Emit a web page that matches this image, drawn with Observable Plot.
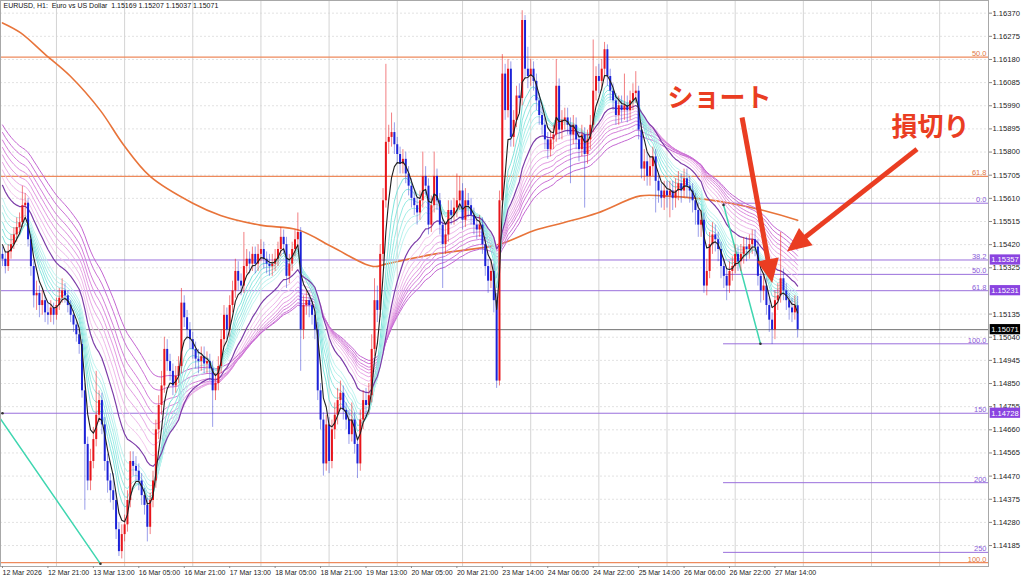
<!DOCTYPE html>
<html><head><meta charset="utf-8">
<script src="https://cdn.jsdelivr.net/npm/d3@7"></script>
<script src="https://cdn.jsdelivr.net/npm/@observablehq/plot@0.6"></script>
<style>body{margin:0;background:#fff}#chart{width:1024px;height:580px}</style>
</head><body><div id="chart"></div>
<script>
// ---- data (EURUSD H1, bar index 0 = 12 Mar 05:00) ----
const firstOpen = 1.1538;
const closes = [
1.1536,1.1533,1.1539,1.1542,1.1546,1.1549,1.1551,1.1558,1.1559,1.1544,
1.1533,1.1521,1.1522,1.1517,1.1519,1.1514,1.1513,1.1516,1.1513,1.1517,
1.1520,1.1523,1.1521,1.1517,1.1513,1.1509,1.1505,1.1501,1.1482,1.1460,
1.1445,1.1453,1.1462,1.1472,1.1478,1.1468,1.1453,1.1445,1.1441,1.1437,
1.1425,1.1416,1.1423,1.1427,1.1437,1.1453,1.1451,1.1449,1.1445,1.1439,
1.1435,1.1426,1.1437,1.1445,1.1466,1.1476,1.1484,1.1499,1.1494,1.1490,
1.1484,1.1488,1.1492,1.1518,1.1512,1.1507,1.1503,1.1499,1.1495,1.1494,
1.1496,1.1493,1.1494,1.1491,1.1482,1.1485,1.1492,1.1503,1.1513,1.1507,
1.1517,1.1523,1.1531,1.1527,1.1525,1.1533,1.1536,1.1534,1.1538,1.1534,
1.1538,1.1540,1.1536,1.1534,1.1533,1.1534,1.1536,1.1540,1.1545,1.1542,
1.1529,1.1534,1.1540,1.1544,1.1547,1.1507,1.1517,1.1519,1.1517,1.1513,
1.1507,1.1482,1.1470,1.1452,1.1468,1.1453,1.1466,1.1472,1.1478,1.1481,
1.1474,1.1470,1.1464,1.1470,1.1460,1.1452,1.1470,1.1478,1.1476,1.1480,
1.1499,1.1519,1.1515,1.1538,1.1560,1.1584,1.1586,1.1588,1.1583,1.1579,
1.1575,1.1577,1.1571,1.1566,1.1561,1.1558,1.1555,1.1560,1.1570,1.1566,
1.1550,1.1558,1.1570,1.1560,1.1550,1.1542,1.1546,1.1556,1.1554,1.1557,
1.1560,1.1564,1.1552,1.1560,1.1558,1.1554,1.1550,1.1548,1.1550,1.1542,
1.1533,1.1527,1.1531,1.1519,1.1486,1.1560,1.1612,1.1597,1.1614,1.1586,
1.1593,1.1603,1.1602,1.1634,1.1614,1.1611,1.1614,1.1609,1.1601,1.1595,
1.1591,1.1585,1.1581,1.1585,1.1587,1.1607,1.1589,1.1593,1.1594,1.1591,
1.1587,1.1591,1.1585,1.1581,1.1587,1.1579,1.1585,1.1591,1.1605,1.1611,
1.1609,1.1614,1.1622,1.1611,1.1605,1.1601,1.1595,1.1599,1.1597,1.1599,
1.1597,1.1601,1.1604,1.1605,1.1589,1.1573,1.1576,1.1570,1.1574,1.1578,
1.1568,1.1564,1.1561,1.1564,1.1562,1.1564,1.1561,1.1564,1.1567,1.1564,
1.1569,1.1566,1.1564,1.1560,1.1556,1.1550,1.1552,1.1525,1.1531,1.1542,
1.1546,1.1544,1.1540,1.1533,1.1529,1.1525,1.1531,1.1533,1.1538,1.1535,
1.1538,1.1541,1.1540,1.1542,1.1544,1.1541,1.1529,1.1523,1.1525,1.1517,
1.1511,1.1507,1.1519,1.1521,1.1528,1.1523,1.1519,1.1516,1.1514,1.15169,
1.15071];
const highs = [
1.1541,1.1539,1.1542,1.1546,1.1549,1.1553,1.1555,1.1566,1.1563,1.1561,
1.1546,1.1535,1.1527,1.1525,1.1523,1.1521,1.1518,1.1519,1.1518,1.1520,
1.1524,1.1528,1.1526,1.1523,1.1519,1.1515,1.1511,1.1507,1.1503,1.1485,
1.1463,1.1458,1.1467,1.1490,1.1482,1.1481,1.1471,1.1456,1.1448,1.1448,
1.1440,1.1428,1.1427,1.1431,1.1441,1.1457,1.1457,1.1455,1.1452,1.1448,
1.1442,1.1438,1.1440,1.1449,1.1470,1.1480,1.1490,1.1504,1.1503,1.1497,
1.1493,1.1492,1.1496,1.1524,1.1521,1.1515,1.1510,1.1506,1.1502,1.1499,
1.1500,1.1500,1.1498,1.1497,1.1494,1.1489,1.1496,1.1507,1.1517,1.1516,
1.1521,1.1527,1.1536,1.1535,1.1530,1.1547,1.1540,1.1539,1.1541,1.1541,
1.1542,1.1544,1.1543,1.1539,1.1538,1.1538,1.1540,1.1543,1.1549,1.1548,
1.1545,1.1538,1.1543,1.1548,1.1555,1.1549,1.1521,1.1523,1.1522,1.1520,
1.1516,1.1510,1.1485,1.1473,1.1472,1.1471,1.1470,1.1477,1.1483,1.1486,
1.1484,1.1477,1.1474,1.1477,1.1473,1.1463,1.1474,1.1482,1.1483,1.1485,
1.1505,1.1528,1.1525,1.1542,1.1565,1.1616,1.1591,1.1596,1.1592,1.1586,
1.1582,1.1581,1.1580,1.1574,1.1569,1.1564,1.1561,1.1564,1.1580,1.1574,
1.1569,1.1562,1.1580,1.1573,1.1563,1.1553,1.1550,1.1560,1.1560,1.1561,
1.1571,1.1570,1.1567,1.1565,1.1563,1.1561,1.1557,1.1553,1.1554,1.1553,
1.1545,1.1536,1.1535,1.1534,1.1522,1.1564,1.1620,1.1616,1.1618,1.1617,
1.1597,1.1607,1.1608,1.1638,1.1636,1.1623,1.1618,1.1617,1.1612,1.1604,
1.1598,1.1594,1.1588,1.1589,1.1591,1.1618,1.1610,1.1597,1.1598,1.1598,
1.1594,1.1595,1.1594,1.1588,1.1591,1.1590,1.1589,1.1595,1.1626,1.1615,
1.1616,1.1618,1.1625,1.1624,1.1614,1.1608,1.1604,1.1603,1.1603,1.1612,
1.1603,1.1605,1.1608,1.1613,1.1607,1.1592,1.1581,1.1580,1.1578,1.1582,
1.1581,1.1571,1.1567,1.1568,1.1568,1.1568,1.1568,1.1569,1.1572,1.1571,
1.1573,1.1573,1.1570,1.1567,1.1563,1.1559,1.1556,1.1555,1.1536,1.1547,
1.1551,1.1550,1.1547,1.1543,1.1536,1.1532,1.1535,1.1537,1.1542,1.1541,
1.1542,1.1545,1.1545,1.1546,1.1548,1.1548,1.1544,1.1532,1.1530,1.1528,
1.1520,1.1514,1.1523,1.1526,1.1547,1.1532,1.1526,1.1522,1.1520,1.1521,
1.15207];
const lows = [
1.1533,1.1530,1.1531,1.1536,1.1540,1.1543,1.1546,1.1549,1.1553,1.1541,
1.1529,1.1516,1.1515,1.1512,1.1513,1.1510,1.1509,1.1510,1.1509,1.1511,
1.1515,1.1518,1.1518,1.1514,1.1510,1.1506,1.1502,1.1497,1.1479,1.1433,
1.1441,1.1441,1.1450,1.1459,1.1469,1.1464,1.1449,1.1440,1.1436,1.1433,
1.1421,1.1414,1.1413,1.1420,1.1424,1.1434,1.1447,1.1445,1.1441,1.1435,
1.1431,1.1420,1.1423,1.1434,1.1442,1.1462,1.1472,1.1481,1.1490,1.1486,
1.1480,1.1481,1.1485,1.1489,1.1508,1.1503,1.1499,1.1495,1.1491,1.1489,
1.1490,1.1489,1.1489,1.1486,1.1467,1.1478,1.1482,1.1489,1.1500,1.1503,
1.1504,1.1514,1.1520,1.1523,1.1521,1.1522,1.1530,1.1530,1.1531,1.1530,
1.1531,1.1535,1.1532,1.1530,1.1529,1.1529,1.1531,1.1533,1.1537,1.1538,
1.1524,1.1526,1.1531,1.1537,1.1541,1.1490,1.1503,1.1513,1.1512,1.1509,
1.1503,1.1478,1.1466,1.1447,1.1449,1.1448,1.1450,1.1462,1.1468,1.1474,
1.1470,1.1466,1.1460,1.1461,1.1456,1.1446,1.1449,1.1466,1.1471,1.1472,
1.1477,1.1496,1.1510,1.1512,1.1535,1.1557,1.1579,1.1582,1.1579,1.1575,
1.1571,1.1571,1.1567,1.1562,1.1557,1.1554,1.1550,1.1552,1.1557,1.1562,
1.1546,1.1547,1.1555,1.1556,1.1546,1.1524,1.1538,1.1543,1.1550,1.1550,
1.1553,1.1556,1.1548,1.1549,1.1553,1.1550,1.1546,1.1544,1.1545,1.1538,
1.1529,1.1522,1.1524,1.1514,1.1483,1.1484,1.1557,1.1593,1.1594,1.1582,
1.1582,1.1590,1.1597,1.1599,1.1610,1.1606,1.1607,1.1605,1.1597,1.1591,
1.1587,1.1581,1.1577,1.1578,1.1581,1.1584,1.1585,1.1585,1.1589,1.1587,
1.1567,1.1583,1.1581,1.1576,1.1578,1.1557,1.1575,1.1581,1.1588,1.1601,
1.1604,1.1605,1.1610,1.1607,1.1601,1.1597,1.1591,1.1591,1.1592,1.1593,
1.1592,1.1593,1.1597,1.1600,1.1585,1.1569,1.1568,1.1566,1.1566,1.1570,
1.1555,1.1559,1.1557,1.1556,1.1557,1.1553,1.1556,1.1557,1.1560,1.1559,
1.1561,1.1561,1.1559,1.1555,1.1550,1.1545,1.1545,1.1522,1.1521,1.1528,
1.1538,1.1539,1.1535,1.1528,1.1524,1.1519,1.1522,1.1527,1.1530,1.1531,
1.1531,1.1534,1.1535,1.1536,1.1538,1.1537,1.1525,1.1518,1.1519,1.1513,
1.1506,1.1501,1.1503,1.1515,1.1518,1.1519,1.1515,1.1511,1.1510,1.1511,
1.15037];

// 200-period MA (orange): bar index / price
const maIdx   = [0,6.3,15.1,24,34.5,42.6,52,67,76.8,90.8,104.2,116.2,127.8,131.3,134.9,151.4,174.6,187.7,197.5,209.5,224.6,232.7,244.7,256.3,268,280];
const maPrice = [1.1633,1.1629,1.1620,1.1611,1.1597,1.1583,1.1570,1.1559,1.1554,1.1550,1.1548,1.1541,1.1534,1.1533,1.1534,1.1538,1.1542,1.1548,1.1551,1.1555,1.1562,1.1562,1.1561,1.1559,1.1556,1.1552];

// EMA ribbons: periods and their values at the left edge of the picture
const blackPeriod = 5,  blackSeed = 1.1545;
const cyanPeriods = [8,10,12,14,16,18];
const cyanSeeds   = [1.1548,1.1551,1.1554,1.1558,1.1561,1.1564];
const purplePeriod = 24, purpleSeed = 1.1569;
const pinkPeriods = [28,32,36,40,44,48,54,60];
const pinkSeeds   = [1.1572,1.1575,1.1578,1.1581,1.1584,1.1587,1.1590,1.1593];

// axes
const yTicks = [1.16370,1.16275,1.16180,1.16085,1.15990,1.15895,1.15800,1.15705,1.15610,1.15515,1.15420,1.15325,1.15135,1.15040,1.14945,1.14850,1.14755,1.14660,1.14565,1.14470,1.14375,1.14280,1.14185];
const xTickIdx = [0,16,32,48,64,80,96,112,128,144,160,176,192,208,224,240,256,272];
const xTickLabels = ["12 Mar 2026","12 Mar 21:00","13 Mar 13:00","16 Mar 05:00","16 Mar 21:00","17 Mar 13:00","18 Mar 05:00","18 Mar 21:00","19 Mar 13:00","20 Mar 05:00","20 Mar 21:00","23 Mar 14:00","24 Mar 06:00","24 Mar 22:00","25 Mar 14:00","26 Mar 06:00","26 Mar 22:00","27 Mar 14:00"];
const daySeparators = [19,43,67,91,115,139,162,186,210,234,258,282,306,330];

// Fibonacci levels
const fibOrangeLevels = [1.16190,1.15700,1.14115];
const fibOrangeLabels = ["50.0","61.8","100.0"];
const fibPurpleLevels = [1.15590,1.15357,1.15298,1.15231,1.15013,1.14728,1.14443,1.14157];
const fibPurpleLabels = ["0.0","38.2","50.0","61.8","100.0","150","200","250"];
const fibPurpleFull   = [false,true,false,true,false,true,false,false];
const fibPurpleStart  = 253.9;
const lastPrice = 1.15071;
const boxPrices = [1.15357,1.15231,1.15071,1.14728];
const boxColors = ["#8a44e0","#8a44e0","#000000","#8a44e0"];

// trend lines (bar index, price)
const tealLines = [
  [{i:-1,p:1.1471},{i:34.5,p:1.1411}],
  [{i:253.9,p:1.15583},{i:266.9,p:1.15013}]
];
// annotations
const notes = [{i:252.5,p:1.1602,text:"ショート"},{i:326.8,p:1.1590,text:"損切り"}];
const arrowsData = [{x1:260.6,y1:1.1594,x2:271.2,y2:1.1526},{x1:322.2,y1:1.1581,x2:276.4,y2:1.1539}];
const title = "EURUSD, H1:  Euro vs US Dollar  1.15169 1.15207 1.15037 1.15071";

// ---- build ----
const xDomain = [-0.704, 347.2];
const yDomain = [1.14099, 1.16422];
const bars = closes.map((c,i)=>({i, o: i ? closes[i-1] : firstOpen, c, h: highs[i], l: lows[i]}));
const up = bars.filter(b=>b.c>=b.o), dn = bars.filter(b=>b.c<b.o);
function ema(period, seed){ const a=2/(period+1); let v=seed; return closes.map((c,i)=>({i, v:(v=v+a*(c-v))})); }
const ma = maIdx.map((i,k)=>({i, p: maPrice[k]}));
const labelMap = new Map(xTickIdx.map((d,k)=>[d,xTickLabels[k]]));
const fibP = fibPurpleLevels.map((p,k)=>({p, label: fibPurpleLabels[k], x1: fibPurpleFull[k]? xDomain[0] : fibPurpleStart, x2: xDomain[1]}));
const fibO = fibOrangeLevels.map((p,k)=>({p, label: fibOrangeLabels[k]}));
const boxes = boxPrices.map((p,k)=>({p, fill: boxColors[k], x1: xDomain[1]+0.6, x2: xDomain[1]+11.3, y1: p-0.00021, y2: p+0.00021, t: p.toFixed(5)}));

const pinkColors = ["#f4c8ee","#eeb8ea","#e8a8e6","#e29ae2","#dc8cde","#d47fda","#cc72d6","#c466d2"];
const cyanColors = ["#7fe3dc","#8be7e0","#98eae4","#a6eee8","#b3f1ec","#c0f4f0"];

function arrowMark(index, scales){
  const g = d3.create("svg:g");
  for (const a of arrowsData){
    const X1=scales.x(a.x1), Y1=scales.y(a.y1), X2=scales.x(a.x2), Y2=scales.y(a.y2);
    const dx=X2-X1, dy=Y2-Y1, L=Math.hypot(dx,dy), ux=dx/L, uy=dy/L;
    const hl=24, hw=11;
    const bx=X2-ux*hl, by=Y2-uy*hl;
    g.append("line").attr("x1",X1).attr("y1",Y1).attr("x2",bx+ux*2).attr("y2",by+uy*2)
      .attr("stroke","#ea3d22").attr("stroke-width",5);
    g.append("path").attr("d",`M${X2},${Y2}L${bx-uy*hw},${by+ux*hw}L${bx+uy*hw},${by-ux*hw}Z`).attr("fill","#ea3d22");
  }
  return g.node();
}

const marks = [
  Plot.ruleY(yTicks, {stroke:"#e2e2e2", strokeDasharray:"2,2"}),
  Plot.ruleX(daySeparators, {stroke:"#d4d4d4"}),
  Plot.ruleY(fibO, {y:"p", stroke:"#ee8a5c", strokeWidth:1.2}),
  Plot.ruleY(fibP, {y:"p", x1:"x1", x2:"x2", stroke:"#9a70dc", strokeWidth:1}),
  Plot.ruleY([lastPrice], {stroke:"#707070"}),
  Plot.line(ma, {x:"i", y:"p", stroke:"#e8743a", strokeWidth:1.6, curve:"catmull-rom"}),
  ...pinkPeriods.map((per,k)=>Plot.line(ema(per,pinkSeeds[k]), {x:"i", y:"v", stroke:pinkColors[k], strokeWidth:1})),
  ...cyanPeriods.map((per,k)=>Plot.line(ema(per,cyanSeeds[k]), {x:"i", y:"v", stroke:cyanColors[k], strokeWidth:1})),
  Plot.line(ema(purplePeriod,purpleSeed), {x:"i", y:"v", stroke:"#7c3ca8", strokeWidth:1.2}),
  ...tealLines.map(seg=>Plot.line(seg, {x:"i", y:"p", stroke:"#3fd6b0", strokeWidth:1.5, clip:true})),
  Plot.dot([tealLines[0][1], tealLines[1][0], tealLines[1][1], {i:0,p:1.14728}], {x:"i", y:"p", r:1.3, fill:"#333", clip:true}),
  Plot.ruleX(up, {x:"i", y1:"l", y2:"h", stroke:"#e8151b", strokeOpacity:0.55}),
  Plot.ruleX(dn, {x:"i", y1:"l", y2:"h", stroke:"#2028d0", strokeOpacity:0.45}),
  Plot.ruleX(up, {x:"i", y1:"o", y2:"c", stroke:"#e8151b", strokeWidth:2}),
  Plot.ruleX(dn, {x:"i", y1:"o", y2:"c", stroke:"#1c22d8", strokeWidth:2}),
  Plot.line(ema(blackPeriod,blackSeed), {x:"i", y:"v", stroke:"#202020", strokeWidth:1.1}),
  Plot.text(fibO, {x:()=>xDomain[1], y:"p", text:"label", textAnchor:"end", lineAnchor:"bottom", dx:-2, dy:-1, fontSize:7.5, fill:"#e07a48"}),
  Plot.text(fibP, {x:()=>xDomain[1], y:"p", text:"label", textAnchor:"end", lineAnchor:"bottom", dx:-2, dy:-1, fontSize:7.5, fill:"#8a5cd8"}),
  Plot.frame({stroke:"#a8a8a8"}),
  Plot.axisY(yTicks, {anchor:"right", tickSize:3, tickPadding:1, tickFormat:d=>d.toFixed(5), fontSize:7.6, fill:"#222", stroke:"#888"}),
  Plot.axisX(xTickIdx, {anchor:"bottom", tickSize:2, tickPadding:2, tickFormat:d=>labelMap.get(d), textAnchor:"start", fontSize:7, fill:"#222", stroke:"#888"}),
  Plot.rect(boxes, {x1:"x1", x2:"x2", y1:"y1", y2:"y2", fill:"fill"}),
  Plot.text(boxes, {x:"x1", y:"p", text:"t", textAnchor:"start", dx:1, fontSize:7.6, fill:"#fff"}),
  Plot.text([title], {frameAnchor:"top-left", dx:3, dy:3, fontSize:7, fill:"#111", lineAnchor:"top"}),
  Plot.text(notes, {x:"i", y:"p", text:"text", fontSize:26, fontWeight:"bold", fill:"#ea3d22", fontFamily:"Noto Sans CJK JP"}),
  arrowMark
];

const chart = Plot.plot({
  width:1024, height:580,
  marginLeft:0, marginRight:36, marginTop:0, marginBottom:14,
  x:{domain:xDomain, axis:null},
  y:{domain:yDomain, axis:null},
  color:{type:"identity"},
  style:{fontFamily:"'Liberation Sans', Arial, sans-serif", background:"#fff", overflow:"visible", whiteSpace:"pre"},
  marks
});
document.getElementById("chart").appendChild(chart);
</script></body></html>
